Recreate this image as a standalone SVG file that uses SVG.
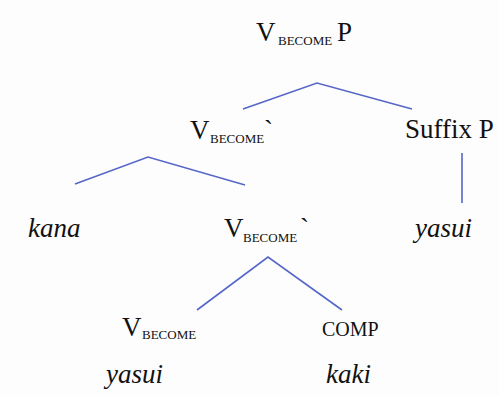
<svg xmlns="http://www.w3.org/2000/svg" width="499" height="395" viewBox="0 0 499 395">
<style>
.t{font-family:"Liberation Serif","Times New Roman",serif;font-size:27px;fill:#111}
.s{font-family:"Liberation Serif","Times New Roman",serif;font-size:13px;fill:#111}
.i{font-style:italic}
.c{font-size:20px}
.e{stroke:#5566c8;stroke-width:1.6;fill:none}
</style>
<rect width="499" height="395" fill="#fdfdfd"/>
<g id="connectors">
<polyline class="e" points="243,109 317,83 412,109"/>
<line class="e" x1="462" y1="153" x2="462" y2="203"/>
<polyline class="e" points="75,184 148,157 245,185"/>
<polyline class="e" points="197,310 268,257 342,310"/>
</g>
<g id="vbecomeP">
<text class="t" x="256" y="41">V</text><text class="s" x="278" y="45">BECOME</text><text class="t" x="337" y="41">P</text>
</g>
<g id="vbecome1">
<text class="t" x="190" y="139">V</text><text class="s" x="210" y="143">BECOME</text><text class="t" x="264" y="139">`</text>
</g>
<g id="suffixP">
<text class="t" x="405" y="138">Suffix P</text>
</g>
<g id="kana">
<text class="t i" x="28" y="237">kana</text>
</g>
<g id="vbecome2">
<text class="t" x="224" y="237">V</text><text class="s" x="243" y="242">BECOME</text><text class="t" x="300" y="237">`</text>
</g>
<g id="yasui1">
<text class="t i" x="415" y="237">yasui</text>
</g>
<g id="vbecome3">
<text class="t" x="122" y="336">V</text><text class="s" x="142" y="339">BECOME</text>
</g>
<g id="comp">
<text class="t c" x="322" y="336">COMP</text>
</g>
<g id="yasui2">
<text class="t i" x="106" y="383">yasui</text>
</g>
<g id="kaki">
<text class="t i" x="326" y="383">kaki</text>
</g>
</svg>
